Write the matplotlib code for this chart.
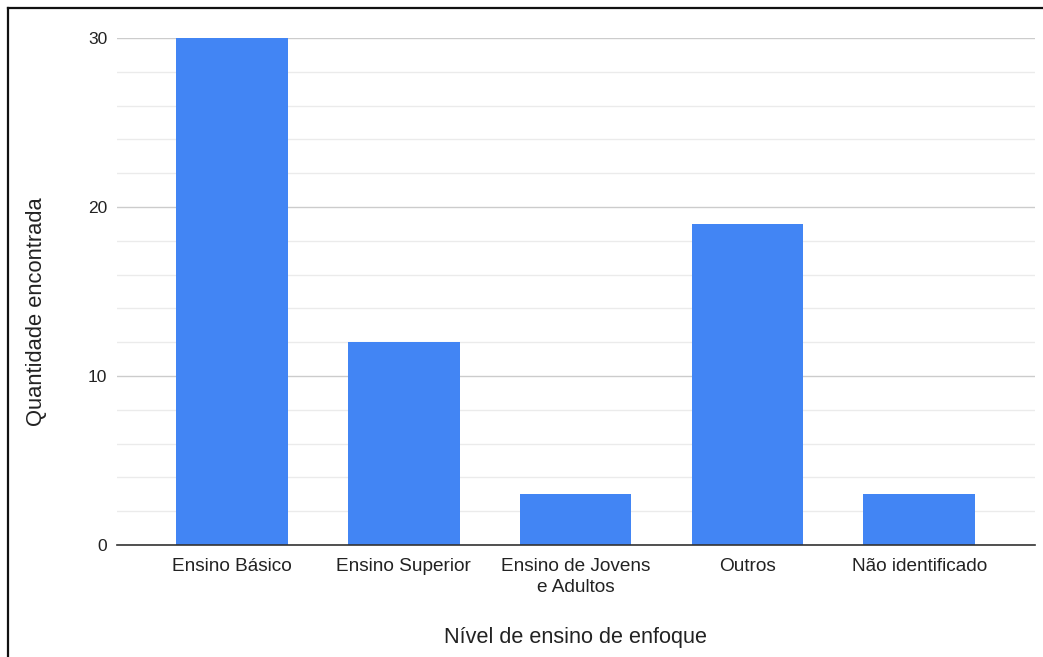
import matplotlib.pyplot as plt
from matplotlib.lines import Line2D

plt.rcParams['font.family'] = ['Liberation Sans', 'DejaVu Sans']

categories = ['Ensino Básico', 'Ensino Superior', 'Ensino de Jovens\ne Adultos',
              'Outros', 'Não identificado']
quantities = [30, 12, 3, 19, 3]
y_ticks = [0, 10, 20, 30]
y_minor = [2, 4, 6, 8, 12, 14, 16, 18, 22, 24, 26, 28]

W, H = 1043, 657
fig = plt.figure(figsize=(W / 100, H / 100), dpi=100)
fig.patch.set_facecolor('white')

# axes box in pixels: left 117, right 1035, top 38, bottom 545
ax = fig.add_axes([117 / W, 1 - 545 / H, (1035 - 117) / W, (545 - 38) / H])

x = range(len(categories))
ax.bar(x, quantities, width=0.65, color='#4285F4', zorder=3)

ax.set_xlim(-0.669, 4.674)
ax.set_ylim(0, 30)
ax.set_yticks(y_ticks)
ax.set_yticks(y_minor, minor=True)
ax.set_xticks(list(x))
ax.set_xticklabels(categories, fontsize=13.7, color='#222222', linespacing=1.3)

ax.grid(axis='y', which='major', color='#cccccc', linewidth=1.0, zorder=0)
ax.grid(axis='y', which='minor', color='#ebebeb', linewidth=1.0, zorder=0)
ax.axhline(0, color='#333333', linewidth=1.2, zorder=4, clip_on=False)

for s in ax.spines.values():
    s.set_visible(False)
ax.tick_params(axis='y', which='both', length=0, labelsize=12.5, labelcolor='#222222', pad=7)
ax.tick_params(axis='x', length=0, pad=9.5)
ax.set_facecolor('white')

fig.text(37 / W, 1 - 312 / H, 'Quantidade encontrada', rotation=90,
         ha='center', va='center', fontsize=15.8, color='#222222')
fig.text(576 / W, 1 - 638 / H, 'Nível de ensino de enfoque',
         ha='center', va='center', fontsize=15.6, color='#222222')

# screenshot frame (left and top edges)
fig.add_artist(Line2D([8 / W, 8 / W], [0, 1 - 8 / H], transform=fig.transFigure,
                      color='#111111', linewidth=1.6))
fig.add_artist(Line2D([8 / W, 1], [1 - 8 / H, 1 - 8 / H], transform=fig.transFigure,
                      color='#111111', linewidth=1.6))

fig.savefig('out.png', dpi=100)
